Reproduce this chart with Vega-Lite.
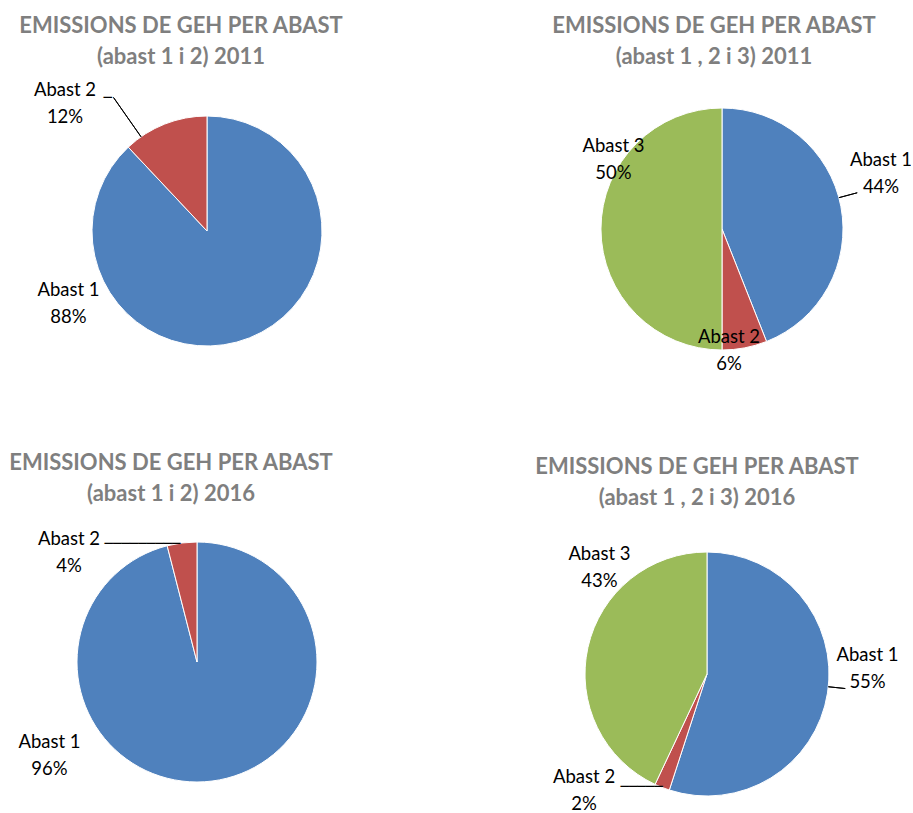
{
  "$schema": "https://vega.github.io/schema/vega-lite/v6.json",
  "padding": {"top": 15, "left": 0, "right": 0, "bottom": 0},
  "background": "#ffffff",
  "datasets": {
    "e2011a": [{"cat": "Abast 1", "pct": 88}, {"cat": "Abast 2", "pct": 12}],
    "e2011b": [{"cat": "Abast 1", "pct": 44}, {"cat": "Abast 2", "pct": 6}, {"cat": "Abast 3", "pct": 50}],
    "e2016a": [{"cat": "Abast 1", "pct": 96}, {"cat": "Abast 2", "pct": 4}],
    "e2016b": [{"cat": "Abast 1", "pct": 55}, {"cat": "Abast 2", "pct": 2}, {"cat": "Abast 3", "pct": 43}]
  },
  "spacing": 60,
  "vconcat": [
    {
      "spacing": 119,
      "hconcat": [
        {
          "width": 414, "height": 322,
          "title": {"text": ["EMISSIONS DE GEH PER ABAST", "(abast 1 i 2) 2011"], "dx": -26, "offset": 1},
          "data": {"name": "e2011a"},
          "transform": [
            {"window": [{"op": "sum", "field": "pct", "as": "cum"}], "sort": [{"field": "cat"}]},
            {"calculate": "datum.cum - datum.pct", "as": "start"},
            {"calculate": "datum.cum - datum.pct / 2", "as": "mid"},
            {"calculate": "datum.cat + '\\n' + datum.pct + '%'", "as": "label"}
          ],
          "layer": [
            {"mark": {"type": "arc", "outerRadius": 115, "stroke": "#ffffff", "strokeWidth": 1},
             "encoding": {"theta": {"field": "start", "type": "quantitative", "scale": {"domain": [0, 100]}}, "theta2": {"field": "cum"},
                          "color": {"field": "cat", "type": "nominal", "scale": {"domain": ["Abast 1", "Abast 2", "Abast 3"], "range": ["#4F81BD", "#C0504D", "#9BBB59"]}, "legend": null}}},
            {"transform": [{"filter": "datum.cat === 'Abast 2'"}],
             "mark": {"type": "arc", "filled": false, "stroke": "#000000", "strokeWidth": 1, "innerRadius": 115, "outerRadius": 163, "thetaOffset": 0.1431, "theta2Offset": -0.6109},
             "encoding": {"theta": {"field": "start", "type": "quantitative", "scale": {"domain": [0, 100]}}, "theta2": {"field": "cum"}}},
            {"transform": [{"filter": "datum.cat === 'Abast 2'"}],
             "mark": {"type": "text", "font": "DejaVu Sans Mono", "fontSize": 14, "color": "#000000", "radius": 145, "dx": -46, "dy": 2},
             "encoding": {"theta": {"field": "mid", "type": "quantitative", "scale": {"domain": [0, 100]}}, "text": {"value": "─"}}},
            {"transform": [{"filter": "datum.cat === 'Abast 1'"}],
             "mark": {"type": "text", "radius": 145, "dx": -191.9, "dy": -76.3},
             "encoding": {"theta": {"field": "mid", "type": "quantitative", "scale": {"domain": [0, 100]}}, "text": {"field": "label"}}},
            {"transform": [{"filter": "datum.cat === 'Abast 2'"}],
             "mark": {"type": "text", "radius": 145, "dx": -88.6, "dy": -5.9},
             "encoding": {"theta": {"field": "mid", "type": "quantitative", "scale": {"domain": [0, 100]}}, "text": {"field": "label"}}}
          ]
        },
        {
          "width": 378, "height": 318,
          "title": {"text": ["EMISSIONS DE GEH PER ABAST", "(abast 1 , 2 i 3) 2011"], "dx": -8, "offset": 1},
          "data": {"name": "e2011b"},
          "transform": [
            {"window": [{"op": "sum", "field": "pct", "as": "cum"}], "sort": [{"field": "cat"}]},
            {"calculate": "datum.cum - datum.pct", "as": "start"},
            {"calculate": "datum.cum - datum.pct / 2", "as": "mid"},
            {"calculate": "datum.cat + '\\n' + datum.pct + '%'", "as": "label"}
          ],
          "layer": [
            {"mark": {"type": "arc", "outerRadius": 121, "stroke": "#ffffff", "strokeWidth": 1},
             "encoding": {"theta": {"field": "start", "type": "quantitative", "scale": {"domain": [0, 100]}}, "theta2": {"field": "cum"},
                          "color": {"field": "cat", "type": "nominal", "scale": {"domain": ["Abast 1", "Abast 2", "Abast 3"], "range": ["#4F81BD", "#C0504D", "#9BBB59"]}, "legend": null}}},
            {"transform": [{"filter": "datum.cat === 'Abast 1'"}],
             "mark": {"type": "arc", "filled": false, "stroke": "#000000", "strokeWidth": 1, "innerRadius": 121, "outerRadius": 140, "thetaOffset": 1.309, "theta2Offset": -1.4556},
             "encoding": {"theta": {"field": "start", "type": "quantitative", "scale": {"domain": [0, 100]}}, "theta2": {"field": "cum"}}},
            {"transform": [{"filter": "datum.cat === 'Abast 1'"}],
             "mark": {"type": "text", "radius": 151, "dx": 10.7, "dy": -40.7, "clip": true},
             "encoding": {"theta": {"field": "mid", "type": "quantitative", "scale": {"domain": [0, 100]}}, "text": {"field": "label"}}},
            {"transform": [{"filter": "datum.cat === 'Abast 2'"}],
             "mark": {"type": "text", "radius": 151, "dx": -21.3, "dy": -40.3},
             "encoding": {"theta": {"field": "mid", "type": "quantitative", "scale": {"domain": [0, 100]}}, "text": {"field": "label"}}},
            {"transform": [{"filter": "datum.cat === 'Abast 3'"}],
             "mark": {"type": "text", "radius": 151, "dx": 42.5, "dy": -83.3},
             "encoding": {"theta": {"field": "mid", "type": "quantitative", "scale": {"domain": [0, 100]}}, "text": {"field": "label"}}}
          ]
        }
      ]
    },
    {
      "spacing": 125,
      "hconcat": [
        {
          "width": 394, "height": 256,
          "title": {"text": ["EMISSIONS DE GEH PER ABAST", "(abast 1 i 2) 2016"], "dx": -26, "offset": 24},
          "data": {"name": "e2016a"},
          "transform": [
            {"window": [{"op": "sum", "field": "pct", "as": "cum"}], "sort": [{"field": "cat"}]},
            {"calculate": "datum.cum - datum.pct", "as": "start"},
            {"calculate": "datum.cum - datum.pct / 2", "as": "mid"},
            {"calculate": "datum.cat + '\\n' + datum.pct + '%'", "as": "label"}
          ],
          "layer": [
            {"mark": {"type": "arc", "outerRadius": 120, "stroke": "#ffffff", "strokeWidth": 1},
             "encoding": {"theta": {"field": "start", "type": "quantitative", "scale": {"domain": [0, 100]}}, "theta2": {"field": "cum"},
                          "color": {"field": "cat", "type": "nominal", "scale": {"domain": ["Abast 1", "Abast 2", "Abast 3"], "range": ["#4F81BD", "#C0504D", "#9BBB59"]}, "legend": null}}},
            {"transform": [{"filter": "datum.cat === 'Abast 2'"}],
             "mark": {"type": "text", "font": "DejaVu Sans Mono", "fontSize": 14, "color": "#000000", "radius": 150, "dx": -35.7, "dy": 30.8},
             "encoding": {"theta": {"field": "mid", "type": "quantitative", "scale": {"domain": [0, 100]}}, "text": {"value": "─────────"}}},
            {"transform": [{"filter": "datum.cat === 'Abast 1'"}],
             "mark": {"type": "text", "radius": 150, "dx": -166.3, "dy": -69.1},
             "encoding": {"theta": {"field": "mid", "type": "quantitative", "scale": {"domain": [0, 100]}}, "text": {"field": "label"}}},
            {"transform": [{"filter": "datum.cat === 'Abast 2'"}],
             "mark": {"type": "text", "radius": 150, "dx": -109.2, "dy": 26.3},
             "encoding": {"theta": {"field": "mid", "type": "quantitative", "scale": {"domain": [0, 100]}}, "text": {"field": "label"}}}
          ]
        },
        {
          "width": 376, "height": 280,
          "title": {"text": ["EMISSIONS DE GEH PER ABAST", "(abast 1 , 2 i 3) 2016"], "dx": -10, "offset": 24},
          "data": {"name": "e2016b"},
          "transform": [
            {"window": [{"op": "sum", "field": "pct", "as": "cum"}], "sort": [{"field": "cat"}]},
            {"calculate": "datum.cum - datum.pct", "as": "start"},
            {"calculate": "datum.cum - datum.pct / 2", "as": "mid"},
            {"calculate": "datum.cat + '\\n' + datum.pct + '%'", "as": "label"}
          ],
          "layer": [
            {"mark": {"type": "arc", "outerRadius": 122, "stroke": "#ffffff", "strokeWidth": 1},
             "encoding": {"theta": {"field": "start", "type": "quantitative", "scale": {"domain": [0, 100]}}, "theta2": {"field": "cum"},
                          "color": {"field": "cat", "type": "nominal", "scale": {"domain": ["Abast 1", "Abast 2", "Abast 3"], "range": ["#4F81BD", "#C0504D", "#9BBB59"]}, "legend": null}}},
            {"transform": [{"filter": "datum.cat === 'Abast 1'"}],
             "mark": {"type": "arc", "filled": false, "stroke": "#000000", "strokeWidth": 1, "innerRadius": 122, "outerRadius": 139, "thetaOffset": 1.6755, "theta2Offset": -1.7802},
             "encoding": {"theta": {"field": "start", "type": "quantitative", "scale": {"domain": [0, 100]}}, "theta2": {"field": "cum"}}},
            {"transform": [{"filter": "datum.cat === 'Abast 2'"}],
             "mark": {"type": "text", "font": "DejaVu Sans Mono", "fontSize": 14, "color": "#000000", "radius": 152, "dx": -9.5, "dy": -28.3},
             "encoding": {"theta": {"field": "mid", "type": "quantitative", "scale": {"domain": [0, 100]}}, "text": {"value": "─────"}}},
            {"transform": [{"filter": "datum.cat === 'Abast 1'"}],
             "mark": {"type": "text", "radius": 152, "dx": 10.4, "dy": -43},
             "encoding": {"theta": {"field": "mid", "type": "quantitative", "scale": {"domain": [0, 100]}}, "text": {"field": "label"}}},
            {"transform": [{"filter": "datum.cat === 'Abast 2'"}],
             "mark": {"type": "text", "radius": 152, "dx": -67, "dy": -38.8},
             "encoding": {"theta": {"field": "mid", "type": "quantitative", "scale": {"domain": [0, 100]}}, "text": {"field": "label"}}},
            {"transform": [{"filter": "datum.cat === 'Abast 3'"}],
             "mark": {"type": "text", "radius": 152, "dx": 40.8, "dy": -87.1},
             "encoding": {"theta": {"field": "mid", "type": "quantitative", "scale": {"domain": [0, 100]}}, "text": {"field": "label"}}}
          ]
        }
      ]
    }
  ],
  "config": {
    "view": {"stroke": null},
    "text": {"font": "Lato", "fontSize": 18.5, "lineBreak": "\n", "lineHeight": 27, "color": "#000000", "align": "center", "baseline": "middle"},
    "title": {"font": "Lato", "fontWeight": "bold", "fontSize": 22, "color": "#7f7f7f", "lineHeight": 31, "anchor": "middle", "frame": "group"}
  }
}
